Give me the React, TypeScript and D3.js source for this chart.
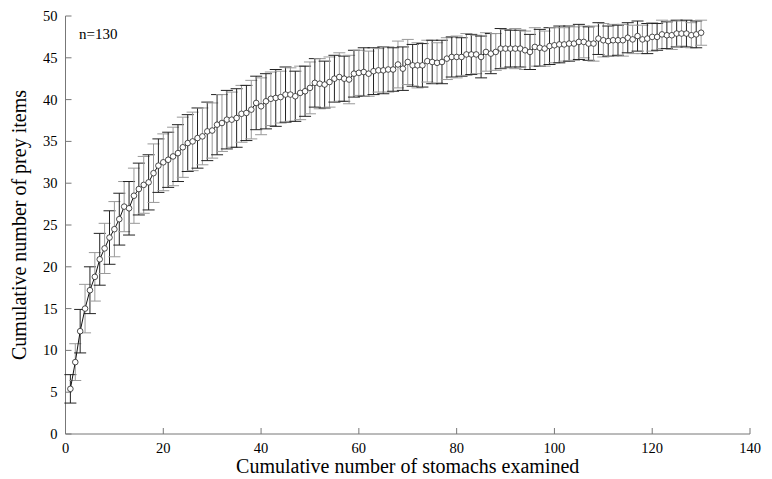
import React, { useEffect, useRef } from "react";
import * as d3 from "d3";

const stomachs: number[] = Array.from({ length: 130 }, (_, i) => i + 1);

const meanPrey: number[] = [
  5.4, 8.6, 12.3, 15.0, 17.2, 18.8, 20.9, 22.2, 23.5, 24.5,
  25.7, 27.2, 27.0, 28.5, 29.3, 29.8, 30.1, 31.2, 32.1, 32.5,
  32.8, 33.2, 33.6, 34.3, 34.8, 35.0, 35.4, 35.6, 36.2, 36.3,
  37.0, 37.2, 37.6, 37.6, 37.8, 38.3, 38.4, 38.8, 39.6, 39.2,
  39.8, 40.1, 40.2, 40.3, 40.6, 40.6, 40.4, 40.8, 41.0, 41.4,
  42.0, 41.9, 41.8, 42.1, 42.5, 42.7, 42.5, 42.4, 43.1, 43.2,
  43.3, 43.1, 43.4, 43.5, 43.5, 43.6, 43.6, 44.2, 43.7, 44.5,
  44.1, 44.1, 44.1, 44.6, 44.5, 44.4, 44.5, 44.9, 45.1, 45.1,
  45.1, 45.4, 45.4, 45.4, 45.1, 45.7, 45.5, 45.7, 46.1, 46.1,
  46.1, 46.1, 46.1, 45.9, 45.7, 46.3, 46.2, 46.1, 46.4, 46.5,
  46.6, 46.6, 46.7, 46.7, 46.9, 46.9, 46.7, 46.7, 47.3, 47.1,
  47.0, 47.1, 47.1, 47.1, 47.4, 47.2, 47.6, 47.2, 47.3, 47.5,
  47.5, 47.8, 47.7, 47.7, 47.9, 47.9, 47.9, 47.7, 47.8, 48.0,
];

const sdPrey: number[] = [
  1.7, 2.2, 2.6, 2.9, 2.8, 2.9, 3.1, 3.0, 3.2, 3.3,
  3.1, 3.0, 3.2, 3.3, 3.1, 3.4, 3.3, 3.5, 3.2, 3.4,
  3.3, 3.5, 3.4, 3.6, 3.4, 3.5, 3.6, 3.4, 3.5, 3.3,
  3.6, 3.4, 3.5, 3.3, 3.5, 3.4, 3.3, 3.5, 3.2, 3.4,
  3.3, 3.2, 3.4, 3.1, 3.3, 3.2, 3.0, 3.2, 3.0, 3.1,
  2.9, 3.0, 2.8, 3.0, 2.8, 2.9, 2.7, 2.9, 2.8, 2.7,
  2.9, 2.7, 2.8, 2.6, 2.8, 2.7, 2.6, 2.8, 2.6, 2.7,
  2.5, 2.7, 2.6, 2.5, 2.6, 2.4, 2.6, 2.5, 2.4, 2.5,
  2.3, 2.5, 2.4, 2.3, 2.5, 2.3, 2.4, 2.2, 2.4, 2.3,
  2.2, 2.4, 2.2, 2.3, 2.1, 2.3, 2.2, 2.1, 2.2, 2.1,
  2.2, 2.0, 2.1, 2.0, 2.1, 1.9, 2.0, 2.1, 1.9, 2.0,
  1.8, 1.9, 1.8, 1.9, 1.8, 1.7, 1.8, 1.7, 1.8, 1.7,
  1.6, 1.7, 1.6, 1.7, 1.6, 1.5, 1.6, 1.5, 1.6, 1.5,
];

const xTicks: number[] = [0, 20, 40, 60, 80, 100, 120, 140];
const yTicks: number[] = [0, 5, 10, 15, 20, 25, 30, 35, 40, 45, 50];

const xTitle = "Cumulative number of stomachs examined";
const yTitle = "Cumulative number of prey items";
const note = "n=130";

export default function App() {
  const ref = useRef<SVGSVGElement | null>(null);

  useEffect(() => {
    const svg = d3.select(ref.current);
    svg.selectAll("*").remove();
    const W = 772, H = 479;
    const left = 65.5, right = 750, top = 16, bottom = 434;
    const x = d3.scaleLinear().domain([0, 140]).range([left, right]);
    const y = d3.scaleLinear().domain([0, 50]).range([bottom, top]);
    const font = "'Liberation Serif', 'Times New Roman', serif";
    const axisColor = "#777";

    svg.attr("width", W).attr("height", H);
    svg.append("rect").attr("width", W).attr("height", H).attr("fill", "#fff");

    // axes lines
    svg.append("line").attr("x1", left).attr("x2", left).attr("y1", top).attr("y2", bottom)
      .attr("stroke", axisColor).attr("stroke-width", 1);
    svg.append("line").attr("x1", left).attr("x2", right).attr("y1", bottom).attr("y2", bottom)
      .attr("stroke", axisColor).attr("stroke-width", 1);

    // y ticks (inward)
    const yg = svg.append("g");
    yTicks.forEach((t) => {
      yg.append("line").attr("x1", left).attr("x2", left + 6).attr("y1", y(t)).attr("y2", y(t))
        .attr("stroke", axisColor).attr("stroke-width", 1);
      yg.append("text").attr("x", left - 8).attr("y", y(t)).attr("dy", "0.35em")
        .attr("text-anchor", "end").attr("font-family", font).attr("font-size", 14.5)
        .attr("fill", "#000").text(String(t));
    });

    // x ticks (inward)
    const xg = svg.append("g");
    xTicks.forEach((t) => {
      xg.append("line").attr("x1", x(t)).attr("x2", x(t)).attr("y1", bottom).attr("y2", bottom - 6)
        .attr("stroke", axisColor).attr("stroke-width", 1);
      xg.append("text").attr("x", x(t)).attr("y", bottom + 19)
        .attr("text-anchor", "middle").attr("font-family", font).attr("font-size", 14.5)
        .attr("fill", "#000").text(String(t));
    });

    // titles
    svg.append("text").attr("x", (left + right) / 2).attr("y", 473)
      .attr("text-anchor", "middle").attr("font-family", font).attr("font-size", 20)
      .attr("fill", "#000").text(xTitle);
    svg.append("text").attr("transform", `translate(26, ${(top + bottom) / 2}) rotate(-90)`)
      .attr("text-anchor", "middle").attr("font-family", font).attr("font-size", 20)
      .attr("fill", "#000").text(yTitle);
    svg.append("text").attr("x", 79).attr("y", 39)
      .attr("font-family", font).attr("font-size", 15).attr("fill", "#000").text(note);

    const data = stomachs.map((s, i) => ({ s, m: meanPrey[i], sd: sdPrey[i], i }));

    // error bars
    const eg = svg.append("g");
    const cap = 6;
    data.forEach((d) => {
      const c = d.i % 2 === 0 ? "#222" : "#999";
      const cx = x(d.s);
      const y1 = y(d.m + d.sd), y2 = y(d.m - d.sd);
      eg.append("line").attr("x1", cx).attr("x2", cx).attr("y1", y1).attr("y2", y2)
        .attr("stroke", c).attr("stroke-width", 1);
      eg.append("line").attr("x1", cx - cap).attr("x2", cx + cap).attr("y1", y1).attr("y2", y1)
        .attr("stroke", c).attr("stroke-width", 1);
      eg.append("line").attr("x1", cx - cap).attr("x2", cx + cap).attr("y1", y2).attr("y2", y2)
        .attr("stroke", c).attr("stroke-width", 1);
    });

    // line
    const line = d3.line<{ s: number; m: number }>().x((d) => x(d.s)).y((d) => y(d.m));
    svg.append("path").datum(data).attr("d", line as any).attr("fill", "none")
      .attr("stroke", "#111").attr("stroke-width", 1);

    // markers
    svg.append("g").selectAll("circle").data(data).enter().append("circle")
      .attr("cx", (d) => x(d.s)).attr("cy", (d) => y(d.m)).attr("r", 2.8)
      .attr("fill", "#fff").attr("stroke", "#222").attr("stroke-width", 0.8);
  }, []);

  return (
    <svg ref={ref} width={772} height={479} style={{ position: "absolute", left: 0, top: 0, display: "block" }} />
  );
}
